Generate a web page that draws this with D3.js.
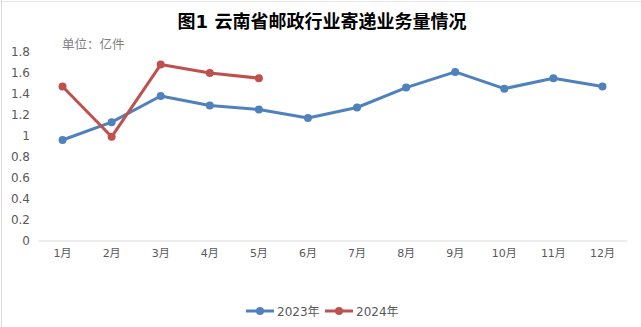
<!DOCTYPE html>
<html>
<head>
<meta charset="utf-8">
<script src="https://cdn.jsdelivr.net/npm/d3@7"></script>
<style>
  html, body { margin: 0; padding: 0; background: #fff; }
  svg { display: block; }
  text { font-family: "DejaVu Sans", "Noto Sans CJK SC", sans-serif; }
</style>
</head>
<body>
<svg id="chart" width="641" height="327"></svg>
<script>
const months = ["1月","2月","3月","4月","5月","6月","7月","8月","9月","10月","11月","12月"];
const values2023 = [0.96, 1.13, 1.38, 1.29, 1.25, 1.17, 1.27, 1.46, 1.61, 1.45, 1.55, 1.47];
const values2024 = [1.47, 0.99, 1.68, 1.60, 1.55];
const yTicks = [0, 0.2, 0.4, 0.6, 0.8, 1, 1.2, 1.4, 1.6, 1.8];
const seriesNames = ["2023年", "2024年"];
const titleText = "图1  云南省邮政行业寄递业务量情况";
const unitText = "单位：亿件";

const colors = ["#4f81bd", "#c0504d"];
const svg = d3.select("#chart");
const W = 641, H = 327;

// spreadsheet-like faint borders
svg.append("line").attr("x1", 1.5).attr("x2", 1.5).attr("y1", 0).attr("y2", H)
  .attr("stroke", "#d9d9d9").attr("stroke-width", 1);
svg.append("line").attr("x1", 0).attr("x2", W).attr("y1", 1.5).attr("y2", 1.5)
  .attr("stroke", "#e6e6e6").attr("stroke-width", 1);

const x = d3.scaleBand().domain(months).range([38, 627]);
const y = d3.scaleLinear().domain([0, 1.8]).range([240.5, 52]);

// title
svg.append("text").attr("x", 322).attr("y", 28).attr("text-anchor", "middle")
  .attr("font-family", "'Noto Sans CJK SC', sans-serif")
  .attr("font-size", 18).attr("font-weight", "bold").attr("fill", "#000")
  .text(titleText);

// unit
svg.append("text").attr("x", 62).attr("y", 49)
  .attr("font-family", "'Noto Sans CJK SC', sans-serif")
  .attr("font-size", 12.5).attr("fill", "#7f7f7f")
  .text(unitText);

// y axis labels
const yAxis = d3.axisLeft(y).tickValues(yTicks).tickSize(0).tickPadding(0)
  .tickFormat(d => d3.format("")(+d.toFixed(1)));
const gy = svg.append("g").attr("transform", "translate(30,0)").call(yAxis);
gy.select(".domain").remove();
gy.selectAll("text").attr("font-size", 12).attr("fill", "#595959")
  .attr("font-family", "'DejaVu Sans', sans-serif");

// x axis
const xAxis = d3.axisBottom(x).tickSize(0).tickPadding(9);
const gx = svg.append("g").attr("transform", `translate(0,${y(0)})`).call(xAxis);
gx.select(".domain").attr("stroke", "#d9d9d9").attr("stroke-width", 1);
gx.selectAll("text").attr("font-size", 11).attr("fill", "#595959")
  .attr("font-family", "'DejaVu Sans', 'Noto Sans CJK SC', sans-serif");

const cx = d => x(d) + x.bandwidth() / 2;
const line = d3.line().x((d, i) => cx(months[i])).y(d => y(d));

[values2023, values2024].forEach((vals, si) => {
  svg.append("path").datum(vals).attr("d", line)
    .attr("fill", "none").attr("stroke", colors[si]).attr("stroke-width", 3)
    .attr("stroke-linejoin", "round");
  svg.selectAll(null).data(vals).enter().append("circle")
    .attr("cx", (d, i) => cx(months[i])).attr("cy", d => y(d)).attr("r", 4)
    .attr("fill", colors[si]);
});

// legend
const legendItems = [
  { name: seriesNames[0], color: colors[0], x0: 246 },
  { name: seriesNames[1], color: colors[1], x0: 325 }
];
const ly = 311;
legendItems.forEach(it => {
  svg.append("line").attr("x1", it.x0).attr("x2", it.x0 + 28).attr("y1", ly).attr("y2", ly)
    .attr("stroke", it.color).attr("stroke-width", 3);
  svg.append("circle").attr("cx", it.x0 + 14).attr("cy", ly).attr("r", 4).attr("fill", it.color);
  svg.append("text").attr("x", it.x0 + 31).attr("y", ly + 4.5)
    .attr("font-size", 12).attr("fill", "#595959")
    .attr("font-family", "'DejaVu Sans', 'Noto Sans CJK SC', sans-serif")
    .text(it.name);
});
</script>
</body>
</html>
